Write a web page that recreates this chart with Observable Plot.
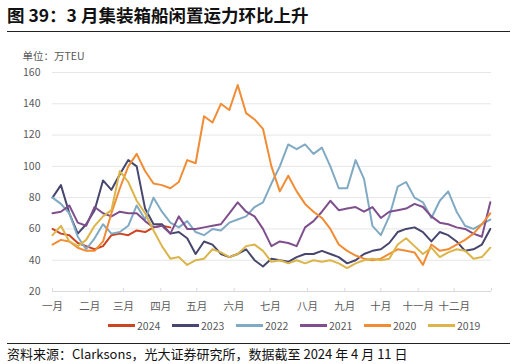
<!DOCTYPE html>
<html>
<head>
<meta charset="utf-8">
<script src="https://cdn.jsdelivr.net/npm/d3@7"></script>
<script src="https://cdn.jsdelivr.net/npm/@observablehq/plot@0.6"></script>
<style>
  html, body { margin: 0; padding: 0; background: #fff; }
  body { position: relative; width: 516px; height: 364px; overflow: hidden; font-family: "Noto Sans CJK SC", "Noto Sans", sans-serif; }
  #title { position: absolute; left: 7px; top: 4px; font-size: 17.5px; font-weight: bold; line-height: 22px; color: #111; white-space: nowrap; }
  .rule { position: absolute; left: 7px; width: 503px; height: 1px; background: #222; }
  #chart { position: absolute; left: 0; top: 40px; }
  #legend { position: absolute; left: 108px; top: 319px; display: flex; font-size: 10.5px; color: #595959; line-height: 13px; }
  .item { display: flex; align-items: center; width: 64px; }
  .sw { width: 27px; height: 3px; margin-right: 2px; }
  #caption { position: absolute; left: 7px; top: 346px; font-size: 13px; line-height: 16px; color: #111; white-space: nowrap; }
</style>
</head>
<body>
<div id="title">图 39：3 月集装箱船闲置运力环比上升</div>
<div class="rule" style="top:31px"></div>
<div id="chart"></div>
<div id="legend"></div>
<div class="rule" style="top:343px"></div>
<div id="caption">资料来源：Clarksons，光大证券研究所，数据截至 2024 年 4 月 11 日</div>
<script>
// Weekly idle containership capacity (万TEU), week i = day 7*i of the year
const years = ["2024", "2023", "2022", "2021", "2020", "2019"];
const colors = ["#cc4422", "#46466e", "#80aac4", "#7e4f8c", "#f28c34", "#dbb54a"];
const monthLabels = ["一月","二月","三月","四月","五月","六月","七月","八月","九月","十月","十一月","十二月"];
const monthStarts = [0, 31, 59, 90, 120, 151, 181, 212, 243, 273, 304, 334];
const yearEnd = 365;
const yTicks = [20, 40, 60, 80, 100, 120, 140, 160];

const v2024 = [60, 57, 56, 51, 49, 47, 49, 56, 57, 56, 59, 58, 61, 62, 61];
const v2023 = [80, 88, 70, 57, 63, 72, 91, 85, 95, 104, 100, 73, 63, 63, 57, 58, 54, 44, 52, 50,
  44, 42, 44, 47, 40, 36, 41, 40, 39, 42, 44, 44, 46, 44, 42, 38, 40, 44, 46, 47,
  51, 58, 60, 61, 58, 52, 58, 56, 52, 46, 47, 50, 60];
const v2022 = [80, 76, 70, 55, 47, 54, 63, 57, 58, 62, 75, 66, 80, 71, 64, 61, 65, 58, 56, 60,
  59, 64, 66, 68, 74, 77, 89, 100, 114, 111, 114, 108, 112, 100, 86, 86, 104, 92, 62, 56,
  68, 87, 90, 80, 77, 67, 78, 84, 71, 62, 60, 63, 66];
const v2021 = [70, 71, 75, 64, 62, 74, 70, 68, 71, 70, 70, 65, 61, 62, 57, 68, 60, 60, 61, 62,
  63, 70, 77, 71, 68, 60, 49, 52, 51, 49, 61, 65, 71, 78, 72, 73, 74, 71, 74, 67,
  71, 72, 73, 76, 74, 68, 64, 63, 61, 60, 57, 55, 77];
const v2020 = [50, 53, 52, 48, 46, 46, 52, 70, 86, 100, 108, 97, 89, 88, 86, 90, 104, 102, 132, 128,
  140, 136, 152, 134, 130, 124, 100, 84, 94, 84, 76, 71, 67, 60, 50, 46, 43, 41, 40, 41,
  44, 47, 46, 45, 37, 50, 46, 47, 50, 53, 57, 63, 70];
const v2019 = [56, 62, 52, 49, 53, 62, 68, 72, 97, 90, 78, 70, 59, 49, 41, 42, 37, 40, 41, 47,
  45, 42, 44, 49, 50, 46, 39, 40, 38, 40, 38, 40, 39, 40, 38, 35, 38, 40, 41, 40,
  41, 50, 54, 49, 44, 48, 42, 45, 47, 46, 41, 42, 48];

const seriesValues = [v2024, v2023, v2022, v2021, v2020, v2019];
const rows = [];
years.forEach((yr, k) => {
  seriesValues[k].forEach((v, i) => rows.push({ year: yr, day: i * 7, value: v }));
});

const tickDays = monthStarts.concat([yearEnd]);

const chart = Plot.plot({
  width: 516,
  height: 276,
  marginLeft: 52,
  marginRight: 25,
  marginTop: 32,
  marginBottom: 25,
  style: { fontFamily: "'Noto Sans CJK SC', 'Noto Sans', sans-serif", fontSize: "10.5px", color: "#595959", background: "#fff" },
  x: { domain: [0, yearEnd] },
  y: { domain: [20, 160] },
  color: { domain: years, range: colors },
  marks: [
    Plot.gridY(yTicks.filter(d => d > 20), { stroke: "#e6e6e6", strokeOpacity: 1, strokeWidth: 1 }),
    Plot.ruleY([20], { stroke: "#d9d9d9", strokeWidth: 1 }),
    Plot.ruleX(tickDays, { y1: 20, y2: 20, insetTop: -3, stroke: "#d9d9d9" }),
    Plot.axisY(yTicks, { tickSize: 0, tickPadding: 12, fill: "#595959", label: null }),
    Plot.axisX(monthStarts, { tickSize: 0, tickPadding: 11, tickFormat: (d) => monthLabels[monthStarts.indexOf(d)], fill: "#595959", label: null }),
    Plot.line(rows, { x: "day", y: "value", z: "year", stroke: "year", strokeWidth: 2, strokeLinejoin: "round" }),
    Plot.text(["单位：万TEU"], { frameAnchor: "top-left", lineAnchor: "middle", dx: -30, dy: -16, textAnchor: "start", fill: "#595959", fontSize: 10.5 })
  ]
});
document.getElementById("chart").appendChild(chart);

const legend = document.getElementById("legend");
years.forEach((yr, k) => {
  const item = document.createElement("div");
  item.className = "item";
  const sw = document.createElement("div");
  sw.className = "sw";
  sw.style.background = colors[k];
  const t = document.createElement("span");
  t.textContent = yr;
  item.appendChild(sw);
  item.appendChild(t);
  legend.appendChild(item);
});
</script>
</body>
</html>
